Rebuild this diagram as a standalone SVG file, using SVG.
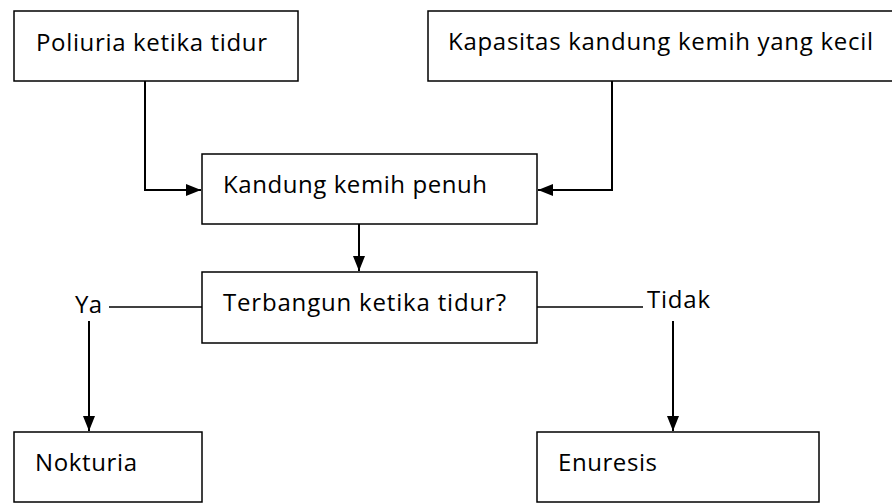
<svg xmlns="http://www.w3.org/2000/svg" width="892" height="503" viewBox="0 0 892 503">
<style>
.box{fill:#fff;stroke:#000;stroke-width:1.5}
.t{font-family:"Open Sans","Lato","Liberation Sans",sans-serif;font-size:24px;fill:#000}
.c{fill:none;stroke:#000;stroke-width:2}
.l{fill:none;stroke:#000;stroke-width:1.5}
</style>
<defs>
<marker id="ah" markerWidth="15" markerHeight="12" refX="15" refY="6" orient="auto" markerUnits="userSpaceOnUse">
<path d="M0,0 L15,6 L0,12 Z" fill="#000"/>
</marker>
</defs>
<rect width="892" height="503" fill="#fff"/>
<g id="connectors">
<path class="c" d="M145,81 V190 H201" marker-end="url(#ah)"/>
<path class="c" d="M612,81 V190 H538" marker-end="url(#ah)"/>
<path class="c" d="M359,224 V271" marker-end="url(#ah)"/>
<path class="l" d="M109,307 H202"/>
<path class="c" d="M89,321 V431" marker-end="url(#ah)"/>
<path class="l" d="M537,307 H643"/>
<path class="c" d="M673,321 V431" marker-end="url(#ah)"/>
</g>
<g id="n1"><rect class="box" x="14" y="11" width="284" height="70"/><text class="t" x="36" y="51" textLength="231">Poliuria ketika tidur</text></g>
<g id="n2"><rect class="box" x="428" y="11" width="470" height="70"/><text class="t" x="448" y="50" textLength="425">Kapasitas kandung kemih yang kecil</text></g>
<g id="n3"><rect class="box" x="202" y="154" width="335" height="70"/><text class="t" x="223" y="193" textLength="264">Kandung kemih penuh</text></g>
<g id="n4"><rect class="box" x="202" y="272" width="335" height="71"/><text class="t" x="223" y="311" textLength="283">Terbangun ketika tidur?</text></g>
<g id="lblYa"><text class="t" x="75" y="313" textLength="27">Ya</text></g>
<g id="lblTidak"><text class="t" x="647" y="308" textLength="63">Tidak</text></g>
<g id="n5"><rect class="box" x="14" y="432" width="188" height="70"/><text class="t" x="35" y="471" textLength="102">Nokturia</text></g>
<g id="n6"><rect class="box" x="537" y="432" width="282" height="70"/><text class="t" x="558" y="471" textLength="99">Enuresis</text></g>
</svg>
